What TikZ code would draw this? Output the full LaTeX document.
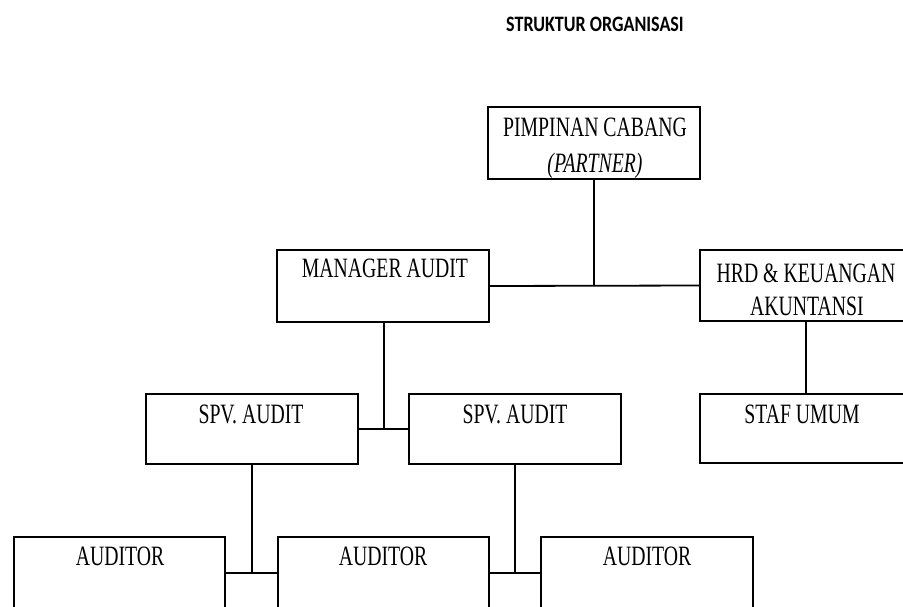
\documentclass[tikz,border=0pt]{standalone}
\usepackage{fontspec}
\usepackage{graphicx}
\setmainfont{Liberation Serif}
\newfontfamily\titlefont{Carlito}
\newcommand\sqz[1]{\scalebox{0.705}[1]{#1}}
\newcommand\tsqz[1]{\scalebox{0.82}[1]{#1}}
\begin{document}
\begin{tikzpicture}[x=1pt,y=-1pt,
  box/.style={draw=black,line width=1.8pt,minimum width=#1,inner sep=0pt,outer sep=0pt,anchor=north west},
  box/.default=212pt,
  conn/.style={draw=black,line width=1.8pt},
  lbl/.style={anchor=base,inner sep=0pt,font=\fontsize{28}{32}\selectfont},
  ttl/.style={anchor=base,inner sep=0pt,font=\titlefont\bfseries\fontsize{22}{26}\selectfont}]
\useasboundingbox (0,0) rectangle (903,606);
\clip (0,0) rectangle (903,606);
% boxes
\node[box,minimum height=72pt] (pim) at (488,107) {};
\node[box,minimum height=72pt] (man) at (277,250) {};
\node[box,minimum height=71pt] (hrd) at (700,250) {};
\node[box,minimum height=70pt] (spv1) at (146,394) {};
\node[box,minimum height=70pt] (spv2) at (409,394) {};
\node[box,minimum height=69pt] (staf) at (700,394) {};
\node[box=211pt,minimum height=72pt] (aud1) at (14,537) {};
\node[box=211pt,minimum height=72pt] (aud2) at (278,537) {};
\node[box=212pt,minimum height=72pt] (aud3) at (541,537) {};
% texts
\node[ttl] (title) at (595,31) {\tsqz{STRUKTUR ORGANISASI}};
\node[lbl] (tpim1) at (595,136) {\sqz{PIMPINAN CABANG}};
\node[lbl] (tpim2) at (595,172) {\sqz{\itshape (PARTNER)}};
\node[lbl] (tman) at (385,277) {\sqz{MANAGER AUDIT}};
\node[lbl] (thrd1) at (806,282) {\sqz{HRD \& KEUANGAN}};
\node[lbl] (thrd2) at (807,315) {\sqz{AKUNTANSI}};
\node[lbl] (tspv1) at (251,423) {\sqz{SPV. AUDIT}};
\node[lbl] (tspv2) at (515,423) {\sqz{SPV. AUDIT}};
\node[lbl] (tstaf) at (802,423) {\sqz{STAF UMUM}};
\node[lbl] (taud1) at (120,565) {\sqz{AUDITOR}};
\node[lbl] (taud2) at (383,565) {\sqz{AUDITOR}};
\node[lbl] (taud3) at (647,565) {\sqz{AUDITOR}};
% connectors
\draw[conn] (man.east) -- (hrd.west);
\draw[conn] (pim.south) -- (pim.south |- man.east);
\draw[conn] (spv1.east) -- (spv2.west);
\draw[conn] ([xshift=1pt]man.south) -- ([xshift=1pt]man.south |- spv1.east);
\draw[conn] (hrd.south) -- (staf.north);
\draw[conn] (aud1.east) -- (aud2.west);
\draw[conn] (aud2.east) -- (aud3.west);
\draw[conn] (spv1.south) -- (spv1.south |- aud1.east);
\draw[conn] (spv2.south) -- (spv2.south |- aud2.east);
\end{tikzpicture}
\end{document}
